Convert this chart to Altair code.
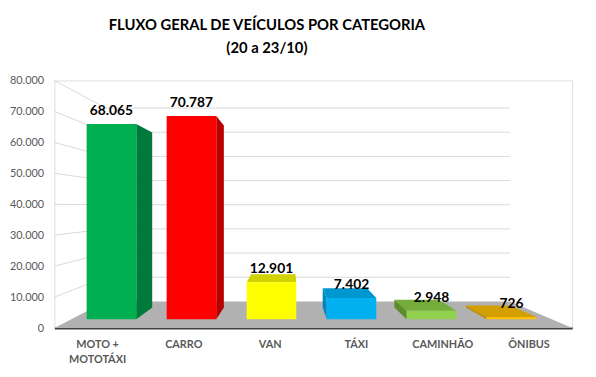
import altair as alt
import pandas as pd

# ---- data ----
categories = ["MOTO +\nMOTOTÁXI", "CARRO", "VAN", "TÁXI", "CAMINHÃO", "ÔNIBUS"]
values = [68065, 70787, 12901, 7402, 2948, 726]
y_ticks = [0, 10000, 20000, 30000, 40000, 50000, 60000, 70000, 80000]

# ---- styles ----
front_colors = ["#00b050", "#ff0000", "#ffff00", "#00b0f0", "#92d050", "#ffc000"]
side_colors = ["#007a3a", "#b80000", "#c8c800", "#0086bc", "#5c8c2c", "#c08c00"]
top_colors = ["#00943f", "#d40000", "#d2d200", "#0096d0", "#74ad3c", "#d4a000"]
FONT = "Lato"

# ---- 3D projection (in data units) ----
YMAX = 80000
N = len(categories)
VX, VY = 2.714, 39331.0          # vanishing point
S_FLOOR_BACK = 0.781
S_BAR_FRONT, S_BAR_BACK = 0.927, 0.83
HALF = 0.31


def P(X, Y, s):
    return VX + (X - VX) * s, VY + (Y - VY) * s


front_rows, side_rows, top_rows, lab_rows, cat_rows = [], [], [], [], []
for i, (c, v) in enumerate(zip(categories, values)):
    X0, X1, Xc = i + 0.5 - HALF, i + 0.5 + HALF, i + 0.5
    fx0, fy0 = P(X0, 0, S_BAR_FRONT)
    fx1, fy1 = P(X1, v, S_BAR_FRONT)
    front_rows.append(dict(x=fx0, x2=fx1, y=fy0, y2=fy1, color=front_colors[i]))
    # visible side face
    Xs = None
    if X1 < VX:
        Xs = X1
    elif X0 > VX:
        Xs = X0
    if Xs is not None:
        for s in (S_BAR_FRONT, S_BAR_BACK):
            xa, yb = P(Xs, 0, s)
            _, yt = P(Xs, v, s)
            side_rows.append(dict(id=i, x=xa, y=yt, y2=yb, color=side_colors[i]))
    # visible top face
    if v < VY:
        for s in (S_BAR_FRONT, S_BAR_BACK):
            xa, yy = P(X0, v, s)
            xb, _ = P(X1, v, s)
            top_rows.append(dict(id=i, y=yy, x=xa, x2=xb, color=top_colors[i]))
    lx, ly = P(Xc, v, S_BAR_FRONT)
    lab_rows.append(dict(x=lx, y=ly, label=f"{v:,}".replace(",", ".")))
    cat_rows.append(dict(x=Xc, y=0, label=c))

# floor
bl, bh = P(0, 0, S_FLOOR_BACK)
br, _ = P(N, 0, S_FLOOR_BACK)
floor_df = pd.DataFrame([dict(y=0, x=0, x2=N), dict(y=bh, x=bl, x2=br)])

# back wall gridlines and left wall diagonals
grid_rows, diag_rows = [], []
for t in y_ticks[1:]:
    gx0, gy = P(0, t, S_FLOOR_BACK)
    gx1, _ = P(N, t, S_FLOOR_BACK)
    grid_rows.append(dict(x=gx0, x2=gx1, y=gy))
    diag_rows.append(dict(x=0, y=t, x2=gx0, y2=gy))

xs = alt.Scale(domain=[0, N], nice=False, zero=False)
ys = alt.Scale(domain=[0, YMAX], nice=False)
x_axis = alt.Axis(labels=False, ticks=False, grid=False, domain=True,
                  domainColor="#404040", domainWidth=2, title=None)
y_axis = alt.Axis(values=y_ticks, grid=False, domain=False, ticks=False, title=None,
                  labelExpr="replace(format(datum.value, ','), ',', '.')",
                  labelFont=FONT, labelFontSize=11, labelColor="#595959", labelPadding=11)


def X(f="x"):
    return alt.X(f"{f}:Q", scale=xs, axis=x_axis)


def Y(f="y"):
    return alt.Y(f"{f}:Q", scale=ys, axis=y_axis, stack=None)


floor = alt.Chart(floor_df).mark_area(orient="horizontal", color="#b1b1b1").encode(
    y=Y(), x=X(), x2="x2:Q")

grid = alt.Chart(pd.DataFrame(grid_rows)).mark_rule(color="#d9d9d9", strokeWidth=1).encode(
    x=X(), x2="x2:Q", y=Y())

diag = alt.Chart(pd.DataFrame(diag_rows)).mark_rule(color="#d9d9d9", strokeWidth=1).encode(
    x=X(), x2="x2:Q", y=Y(), y2="y2:Q")

sides = alt.Chart(pd.DataFrame(side_rows)).mark_area(orient="vertical").encode(
    x=X(), y=Y(), y2="y2:Q", detail="id:N", color=alt.Color("color:N", scale=None))

tops = alt.Chart(pd.DataFrame(top_rows)).mark_area(orient="horizontal").encode(
    y=Y(), x=X(), x2="x2:Q", detail="id:N", color=alt.Color("color:N", scale=None))

fronts = alt.Chart(pd.DataFrame(front_rows)).mark_rect().encode(
    x=X(), x2="x2:Q", y=Y(), y2="y2:Q", color=alt.Color("color:N", scale=None))

vlabels = alt.Chart(pd.DataFrame(lab_rows)).mark_text(
    font=FONT, fontSize=14, fontWeight="bold", color="#000000", dy=-13, baseline="middle"
).encode(x=X(), y=Y(), text="label:N")

clabels = alt.Chart(pd.DataFrame(cat_rows)).mark_text(
    font=FONT, fontSize=11, fontWeight="bold", color="#595959", baseline="top",
    dy=11, lineBreak="\n", lineHeight=15
).encode(x=X(), y=Y(), text="label:N")

chart = alt.layer(floor, grid, diag, sides, tops, fronts, vlabels, clabels).properties(
    width=525, height=251,
    padding={"left": 47, "top": 71, "right": 16, "bottom": 39},
    autosize=alt.AutoSizeParams(type="none"),
    title=alt.Title(["FLUXO GERAL DE VEÍCULOS POR CATEGORIA", "(20 a 23/10)"],
                    font=FONT, fontSize=15, fontWeight="bold", color="#000000",
                    anchor="middle", dx=-47, offset=19, lineHeight=23),
).configure_view(stroke=None).configure(background="#ffffff")

chart.save("out.html", embed_options={"renderer": "svg", "actions": False})
